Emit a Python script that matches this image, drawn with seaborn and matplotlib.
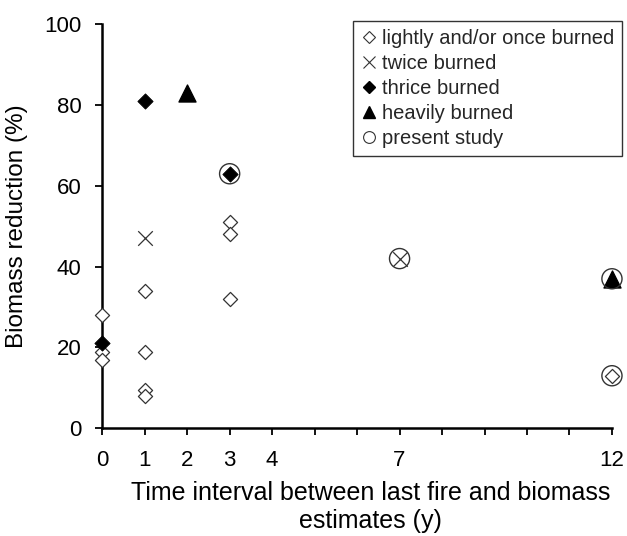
import matplotlib
matplotlib.use("Agg")
import matplotlib.pyplot as plt
import seaborn as sns
from matplotlib.lines import Line2D

# data
light_x = [0, 0, 0, 1, 1, 1, 1, 3, 3, 3, 12]
light_y = [28, 19, 17, 34, 19, 9.5, 8, 51, 48, 32, 13]
twice_x = [1, 7]
twice_y = [47, 42]
thrice_x = [0, 1, 3]
thrice_y = [21, 81, 63]
heavy_x = [2, 12]
heavy_y = [83, 37]
present_x = [3, 7, 12, 12]
present_y = [63, 42, 37, 13]

x_ticks = list(range(13))
x_labels = ["0", "1", "2", "3", "4", "", "", "7", "", "", "", "", "12"]
legend_labels = ["lightly and/or once burned", "twice burned", "thrice burned",
                 "heavily burned", "present study"]

sns.set_style("ticks")
plt.rcParams["font.family"] = ["Liberation Sans", "DejaVu Sans"]

fig = plt.figure(figsize=(6.27, 5.36), dpi=100)
ax = fig.add_axes([0.163, 0.201, 0.813, 0.7537])

edge = "#333333"
sns.scatterplot(x=light_x, y=light_y, marker="D", s=52, facecolor="white",
                edgecolor=edge, linewidth=0.9, ax=ax, zorder=3, clip_on=False)
sns.scatterplot(x=twice_x, y=twice_y, marker="x", s=110, color=edge,
                linewidth=0.9, ax=ax, zorder=3, clip_on=False)
sns.scatterplot(x=thrice_x, y=thrice_y, marker="D", s=60, color="black",
                edgecolor="black", ax=ax, zorder=4, clip_on=False)
sns.scatterplot(x=heavy_x, y=heavy_y, marker="^", s=150, color="black",
                edgecolor="black", ax=ax, zorder=4, clip_on=False)
sns.scatterplot(x=present_x, y=present_y, marker="o", s=210, facecolor="none",
                edgecolor=edge, linewidth=1.0, ax=ax, zorder=5, clip_on=False)

ax.set_xlim(0, 12)
ax.set_ylim(0, 100)
ax.set_xticks(x_ticks)
ax.set_xticklabels(x_labels)
ax.set_yticks([0, 20, 40, 60, 80, 100])
ax.tick_params(axis="both", labelsize=16, length=5, width=1.3, color="black",
               labelcolor="black", direction="out")
ax.tick_params(axis="x", pad=11)
ax.tick_params(axis="y", pad=10)
for side in ["left", "bottom"]:
    ax.spines[side].set_linewidth(1.8)
    ax.spines[side].set_color("black")
sns.despine(ax=ax)

ax.set_ylabel("Biomass reduction (%)", fontsize=17.5, color="black")
ax.yaxis.set_label_coords(-0.145, 0.5)
ax.set_xlabel("Time interval between last fire and biomass\nestimates (y)",
              fontsize=18, color="black", linespacing=1.2)
ax.xaxis.set_label_coords(0.526, -0.13)

handles = [
    Line2D([], [], ls="", marker="D", ms=6, mfc="white", mec=edge, mew=0.8),
    Line2D([], [], ls="", marker="x", ms=8.5, mec=edge, mew=0.8),
    Line2D([], [], ls="", marker="D", ms=6, mfc="black", mec="black"),
    Line2D([], [], ls="", marker="^", ms=8.5, mfc="black", mec="black"),
    Line2D([], [], ls="", marker="o", ms=8.5, mfc="white", mec=edge, mew=0.8),
]
leg = ax.legend(handles, legend_labels, loc="upper right",
                bbox_to_anchor=(1.02, 1.008), fontsize=14.5, frameon=True,
                fancybox=False, handlelength=0.8, handletextpad=0.25,
                borderpad=0.4, labelspacing=0.3, borderaxespad=0)
leg.get_frame().set_edgecolor("black")
leg.get_frame().set_linewidth(1.0)

fig.savefig("out.png", dpi=100)
